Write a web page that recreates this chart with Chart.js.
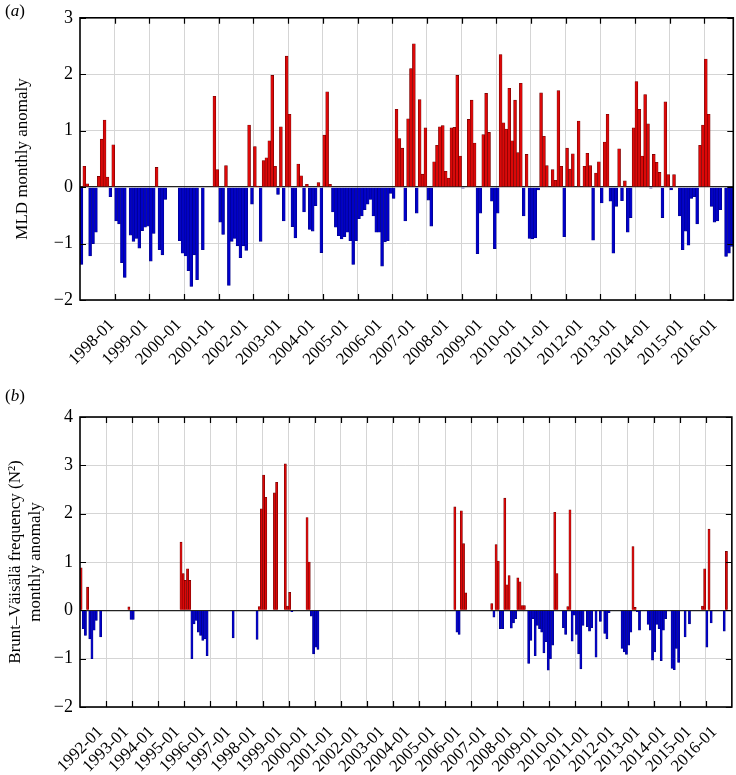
<!DOCTYPE html>
<html>
<head>
<meta charset="utf-8">
<script src="https://cdn.jsdelivr.net/npm/chart.js@4.4.0/dist/chart.umd.min.js"></script>
<style>
  body { margin: 0; background: #fff; }
  .panel { position: absolute; left: 0; }
  .tag { position: absolute; left: 5px; font: 17px "Liberation Serif", serif; color: #000; }
</style>
</head>
<body>
<div class="panel" style="top:0"><canvas id="mld" width="736" height="385"></canvas></div>
<div class="panel" style="top:385px"><canvas id="bvf" width="736" height="390"></canvas></div>
<div class="tag" style="top:1px">(<i>a</i>)</div>
<div class="tag" style="top:386px">(<i>b</i>)</div>
<script>
// (a) MLD monthly anomaly, one value per month
const mldValues = [
  -1.37, 0.37, 0.06, -1.22, -1.00, -0.80, 0.19, 0.85, 1.19, 0.18, -0.17, 0.75,
  -0.60, -0.65, -1.34, -1.60, 0, -0.85, -0.96, -0.91, -1.08, -0.77, -0.71, -0.69,
  -1.31, -0.82, 0.35, -1.11, -1.20, -0.22, 0, 0, 0, 0, -0.95, -1.17,
  -1.22, -1.48, -1.76, -1.20, -1.64, 0, -1.11, 0, 0, 0, 1.61, 0.31,
  -0.62, -0.84, 0.38, -1.74, -0.96, -0.91, -1.04, -1.25, -1.04, -1.12, 1.10, -0.30,
  0.72, 0.02, -0.96, 0.47, 0.52, 0.82, 1.98, 0.37, -0.13, 1.07, -0.60, 2.32,
  1.29, -0.70, -0.90, 0.41, 0.20, -0.44, 0.05, -0.75, -0.78, -0.33, 0.08, -1.16,
  0.92, 1.69, 0.05, -0.44, -0.71, -0.86, -0.92, -0.88, -0.80, -0.95, -1.37, -0.95,
  -0.56, -0.51, -0.40, -0.30, -0.22, -0.51, -0.80, -0.80, -1.40, -0.97, -0.95, -0.11,
  -0.20, 1.38, 0.86, 0.69, -0.60, 1.21, 2.10, 2.54, -0.46, 1.55, 0.23, 1.05,
  -0.23, -0.69, 0.45, 0.74, 1.07, 1.09, 0.28, 0.16, 1.05, 1.06, 1.98, 0.55,
  -0.02, 0, 1.20, 1.54, 0.78, -1.18, -0.46, 0.93, 1.66, 0.97, -0.25, -1.09,
  -0.46, 2.35, 1.14, 1.03, 1.75, 0.82, 1.54, 0.61, 1.84, -0.51, 0.58, -0.91,
  -0.92, -0.90, -0.05, 1.67, 0.90, 0.38, 0, 0.31, 0.12, 1.71, 0.37, -0.88,
  0.69, 0.32, 0.59, 0, 1.17, 0, 0.37, 0.60, 0.38, -0.94, 0.25, 0.45,
  -0.28, 0.80, 1.29, -0.25, -1.17, -0.34, 0.68, -0.24, 0.11, -0.80, -0.54, 1.05,
  1.87, 1.38, 0.55, 1.64, 1.12, -0.02, 0.58, 0.44, 0.26, -0.54, 1.51, 0.22,
  -0.05, 0.22, 0, -0.51, -1.11, -0.78, -1.03, -0.20, -0.17, -0.65, 0.74, 1.10,
  2.27, 1.29, -0.34, -0.62, -0.60, -0.40, 0, -1.23, -1.17, -1.05
];
const mldLabels = ['1998-01', '1999-01', '2000-01', '2001-01', '2002-01', '2003-01', '2004-01',
  '2005-01', '2006-01', '2007-01', '2008-01', '2009-01', '2010-01', '2011-01', '2012-01',
  '2013-01', '2014-01', '2015-01', '2016-01'];

// (b) Brunt-Vaisala frequency (N^2) monthly anomaly
const bvfValues = [
  0.88, -0.38, -0.52, 0.48, -0.59, -1.00, -0.41, -0.21, 0, -0.55, 0, 0,
  0, 0, 0, 0, 0, 0, 0, 0, 0, 0, 0.07, -0.19,
  -0.19, 0, 0, 0, 0, 0, 0, 0, 0, 0, 0, 0,
  0, 0, 0, 0, 0, 0, 0, 0, 0, 0, 1.41, 0.76,
  0.62, 0.86, 0.62, -1.00, -0.28, -0.21, -0.45, -0.52, -0.62, -0.59, -0.94, 0,
  0, 0, 0, 0, 0, 0, 0, 0, 0, 0, -0.57, 0,
  0, 0, 0, 0, 0, 0, 0, 0, 0, -0.60, 0.08, 2.10,
  2.80, 2.34, 0, 0, 0, 2.43, 2.65, 0, 0, 0, 3.03, 0.09,
  0.37, -0.03, 0, 0, 0, 0, 0, 0, 1.92, 1.00, -0.12, -0.90,
  -0.76, -0.81, 0, 0, 0, 0, 0, 0, 0, 0, 0, 0,
  0, 0, 0, 0, 0, 0, 0, 0, 0, 0, 0, 0,
  0, 0, 0, 0, 0, 0, 0, 0, 0, 0, 0, 0,
  0, 0, 0, 0, 0, 0, 0, 0, 0, 0, 0, 0,
  0, 0, 0, 0, 0, 0, 0, 0, 0, 0, 0, 0,
  0, 0, 0, 0, 2.14, -0.45, -0.50, 2.06, 1.38, 0.36, 0, 0,
  0, 0, 0, 0, 0, 0, 0, 0, 0, 0.14, -0.14, 1.36,
  1.02, -0.38, -0.38, 2.32, 0.53, 0.72, -0.37, -0.26, -0.17, 0.67, 0.59, 0.10,
  0.10, 0, -1.10, -0.62, -0.17, -0.94, -0.31, -0.38, -0.45, -0.88, -0.65, -1.24,
  -1.00, -0.72, 2.03, 0.76, 0, 0, -0.36, -0.50, 0.08, 2.08, -0.64, -0.10,
  -0.50, -0.90, -1.21, -0.31, 0, -0.34, -0.43, -0.36, 0, -0.97, 0, -0.23,
  0, -0.48, -0.59, -0.05, 0, 0, 0, 0, 0, -0.79, -0.86, -0.91,
  -0.72, -0.45, 1.32, 0.06, -0.03, -0.41, 0, 0, 0, -0.29, -0.41, -1.03,
  -0.86, -0.29, -0.38, -1.04, -0.41, -0.17, 0, 0, -1.20, -1.23, -0.79, -1.08,
  0, 0, -0.55, 0, -0.28, 0, 0, 0, 0, 0, 0.09, 0.86,
  -0.76, 1.68, -0.26, 0, 0, 0, 0, 0, -0.43, 1.22, 0, 0
];
const bvfLabels = ['1992-01', '1993-01', '1994-01', '1995-01', '1996-01', '1997-01', '1998-01',
  '1999-01', '2000-01', '2001-01', '2002-01', '2003-01', '2004-01', '2005-01', '2006-01',
  '2007-01', '2008-01', '2009-01', '2010-01', '2011-01', '2012-01', '2013-01', '2014-01',
  '2015-01', '2016-01'];

const RED = '#dc0808', RED_EDGE = '#6a0000';
const BLUE = '#0000c8', BLUE_EDGE = '#000080';
const FONT = '"Liberation Serif", "Times New Roman", serif';

// box with inward tick marks, like the matlab axes
const framePlugin = {
  id: 'frame',
  afterDraw(chart) {
    const { ctx, chartArea: a, scales } = chart;
    ctx.save();
    ctx.strokeStyle = '#000';
    ctx.lineWidth = 1.2;
    ctx.beginPath();
    scales.xg.ticks.forEach(t => {
      const px = Math.round(scales.xg.getPixelForValue(t.value)) + 0.5;
      ctx.moveTo(px, a.top); ctx.lineTo(px, a.top + 6);
      ctx.moveTo(px, a.bottom); ctx.lineTo(px, a.bottom - 6);
    });
    scales.y.ticks.forEach(t => {
      const py = Math.round(scales.y.getPixelForValue(t.value)) + 0.5;
      ctx.moveTo(a.left, py); ctx.lineTo(a.left + 6, py);
      ctx.moveTo(a.right, py); ctx.lineTo(a.right - 6, py);
    });
    ctx.stroke();
    ctx.lineWidth = 1.6;
    ctx.strokeRect(a.left, a.top, a.right - a.left, a.bottom - a.top);
    ctx.restore();
  }
};

function makePanel(id, values, labels, cfg) {
  const n = values.length;
  const step = (cfg.labelLast - cfg.labelFirst) / (labels.length - 1);
  return new Chart(document.getElementById(id), {
    type: 'bar',
    data: {
      datasets: [{
        xAxisID: 'x',
        data: values.map((v, i) => ({ x: i + 0.5, y: v })),
        backgroundColor: c => (c.raw && c.raw.y >= 0 ? RED : BLUE),
        borderColor: c => (c.raw && c.raw.y >= 0 ? RED_EDGE : BLUE_EDGE),
        borderWidth: 0.6,
        barPercentage: 1,
        categoryPercentage: 1
      }]
    },
    options: {
      responsive: false,
      animation: false,
      events: [],
      layout: { padding: { left: 0, right: 2, top: cfg.top, bottom: 0 } },
      plugins: { legend: { display: false }, tooltip: { enabled: false } },
      scales: {
        x: {
          type: 'linear', position: 'bottom', min: 0, max: n, offset: false,
          grid: { display: false, offset: false },
          border: { display: false },
          ticks: {
            autoSkip: false, maxRotation: 45, minRotation: 45, padding: 7,
            color: '#000', font: { family: FONT, size: 17 },
            callback: (v, i) => labels[i]
          },
          afterBuildTicks: s => { s.ticks = labels.map((_, i) => ({ value: cfg.labelFirst + i * step })); },
          afterFit: s => { s.height = cfg.xAxisH; }
        },
        xg: {
          type: 'linear', position: 'top', min: 0, max: n, offset: false,
          grid: { color: '#d5d5d5', lineWidth: 1, drawTicks: false, offset: false },
          border: { display: false },
          ticks: { display: false },
          afterBuildTicks: s => {
            const t = [];
            for (let m = 12; m < n; m += 12) t.push({ value: m });
            s.ticks = t;
          },
          afterFit: s => { s.height = 0; }
        },
        y: {
          min: cfg.yMin, max: cfg.yMax,
          grid: {
            color: c => (c.tick.value === 0 ? '#222' : '#d5d5d5'),
            lineWidth: c => (c.tick.value === 0 ? 1.3 : 1),
            drawTicks: false
          },
          border: { display: false },
          ticks: {
            stepSize: 1, padding: 7, color: '#000', font: { family: FONT, size: 18 },
            callback: v => (v < 0 ? '\u2212' + Math.abs(v) : String(v))
          },
          title: {
            display: true, text: cfg.title, color: '#000',
            font: { family: FONT, size: 17 }, padding: { top: cfg.titlePad, bottom: 0 }
          },
          afterFit: s => { s.width = 80; }
        }
      }
    },
    plugins: [framePlugin]
  });
}

makePanel('mld', mldValues, mldLabels, {
  top: 9, xAxisH: 85, yMin: -2, yMax: 3,
  labelFirst: 11, labelLast: 219.5,
  title: 'MLD monthly anomaly', titlePad: 12
});

makePanel('bvf', bvfValues, bvfLabels, {
  top: 32, xAxisH: 68, yMin: -2, yMax: 4,
  labelFirst: 9.4, labelLast: 292,
  title: ['Brunt\u2013V\u00e4is\u00e4l\u00e4 frequency (N\u00b2)', 'monthly anomaly'], titlePad: 5
});
</script>
</body>
</html>
